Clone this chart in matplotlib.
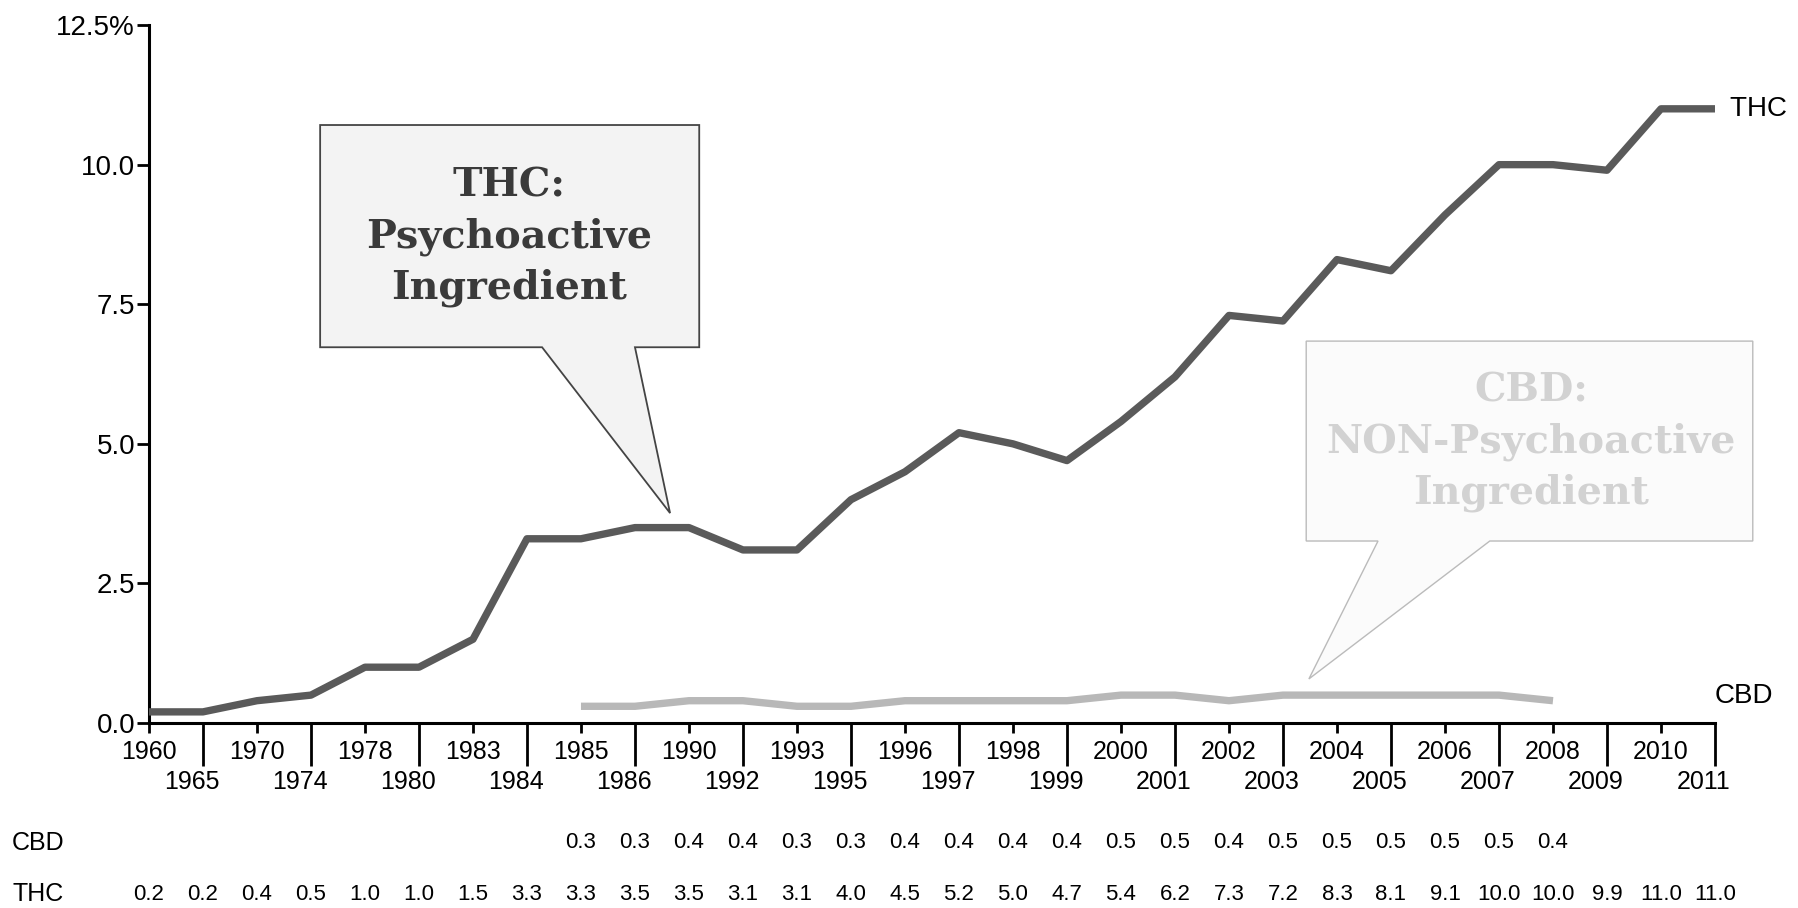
import matplotlib
matplotlib.use('Agg')
import matplotlib.pyplot as plt
from matplotlib import transforms
from matplotlib.patches import Polygon
import numpy as np

# data
years = ['1960', '1965', '1970', '1974', '1978', '1980', '1983', '1984', '1985', '1986',
         '1990', '1992', '1993', '1995', '1996', '1997', '1998', '1999', '2000', '2001',
         '2002', '2003', '2004', '2005', '2006', '2007', '2008', '2009', '2010', '2011']
thc = [0.2, 0.2, 0.4, 0.5, 1.0, 1.0, 1.5, 3.3, 3.3, 3.5, 3.5, 3.1, 3.1, 4.0, 4.5,
       5.2, 5.0, 4.7, 5.4, 6.2, 7.3, 7.2, 8.3, 8.1, 9.1, 10.0, 10.0, 9.9, 11.0, 11.0]
cbd_first_year = '1985'
cbd = [0.3, 0.3, 0.4, 0.4, 0.3, 0.3, 0.4, 0.4, 0.4, 0.4, 0.5, 0.5, 0.4, 0.5, 0.5,
       0.5, 0.5, 0.5, 0.4]
yticks = [0, 2.5, 5.0, 7.5, 10.0, 12.5]
ytick_labels = ['0.0', '2.5', '5.0', '7.5', '10.0', '12.5%']

x = np.arange(len(years))
i0 = years.index(cbd_first_year)
cbd_x = x[i0:i0 + len(cbd)]

plt.rcParams['font.family'] = ['Liberation Sans', 'DejaVu Sans']

fig = plt.figure(figsize=(17.99, 9.08), dpi=100)
ax = fig.add_axes([0.0828, 0.2037, 0.8705, 0.7687])

ax.plot(x, thc, color='#5a5a5a', lw=5.3, solid_capstyle='butt', clip_on=False, zorder=3)
ax.plot(cbd_x, cbd, color='#b8b8b8', lw=5.3, solid_capstyle='butt', clip_on=False, zorder=3)

ax.set_xlim(0, len(years) - 1)
ax.set_ylim(0, 12.5)
for s in ['top', 'right']:
    ax.spines[s].set_visible(False)
for s in ['left', 'bottom']:
    ax.spines[s].set_linewidth(2.2)

ax.set_yticks(yticks)
ax.set_yticklabels(ytick_labels)
ax.tick_params(axis='y', length=9, width=2, labelsize=20, pad=1)

ax.set_xticks(x[::2])
ax.set_xticklabels(years[::2])
ax.set_xticks(x[1::2], minor=True)
ax.set_xticklabels(years[1::2], minor=True)
ax.tick_params(axis='x', which='major', length=7, width=2, labelsize=18, pad=5)
ax.tick_params(axis='x', which='minor', length=31, width=2, labelsize=18, pad=3)
shift = transforms.ScaledTranslation(-0.11, 0, fig.dpi_scale_trans)
for lab in ax.xaxis.get_minorticklabels():
    lab.set_transform(lab.get_transform() + shift)

# series labels at the right end
ax.text(x[-1], thc[-1], '  THC', ha='left', va='center', fontsize=20, clip_on=False)
ax.text(x[-1], 0.48, 'CBD', ha='left', va='center', fontsize=20, clip_on=False)

# value table under the axis
trans = transforms.blended_transform_factory(ax.transData, fig.transFigure)
fig.text(0.0067, 0.0716, 'CBD', ha='left', va='center', fontsize=18)
fig.text(0.0067, 0.0154, 'THC', ha='left', va='center', fontsize=18)
for xi, v in zip(cbd_x, cbd):
    ax.text(xi, 0.0716, f'{v:.1f}', transform=trans, ha='center', va='center', fontsize=16)
for xi, v in zip(x, thc):
    ax.text(xi, 0.0154, f'{v:.1f}', transform=trans, ha='center', va='center', fontsize=16)

# speech-bubble callouts
thc_bubble = [(3.17, 10.71), (10.19, 10.71), (10.19, 6.73), (9.0, 6.73), (9.65, 3.76),
              (7.28, 6.73), (3.17, 6.73)]
ax.add_patch(Polygon(thc_bubble, closed=True, facecolor='#f3f3f3', edgecolor='#444444',
                     lw=1.3, zorder=2, clip_on=False))
for yy, t in zip([9.62, 8.70, 7.79], ['THC:', 'Psychoactive', 'Ingredient']):
    ax.text(6.67, yy, t, ha='center', va='center', fontsize=28.5, fontweight='bold',
            family='DejaVu Serif', color='#3a3a3a', zorder=4)

cbd_bubble = [(21.43, 6.84), (29.70, 6.84), (29.70, 3.26), (24.83, 3.26), (21.48, 0.79),
              (22.76, 3.26), (21.43, 3.26)]
ax.add_patch(Polygon(cbd_bubble, closed=True, facecolor='#fbfbfb', edgecolor='#bbbbbb',
                     lw=1.0, zorder=2, clip_on=False))
for yy, t in zip([5.96, 5.03, 4.13], ['CBD:', 'NON-Psychoactive', 'Ingredient']):
    ax.text(25.6, yy, t, ha='center', va='center', fontsize=28.5, fontweight='bold',
            family='DejaVu Serif', color='#d2d2d2', zorder=4)

fig.savefig('out.png', dpi=100)
